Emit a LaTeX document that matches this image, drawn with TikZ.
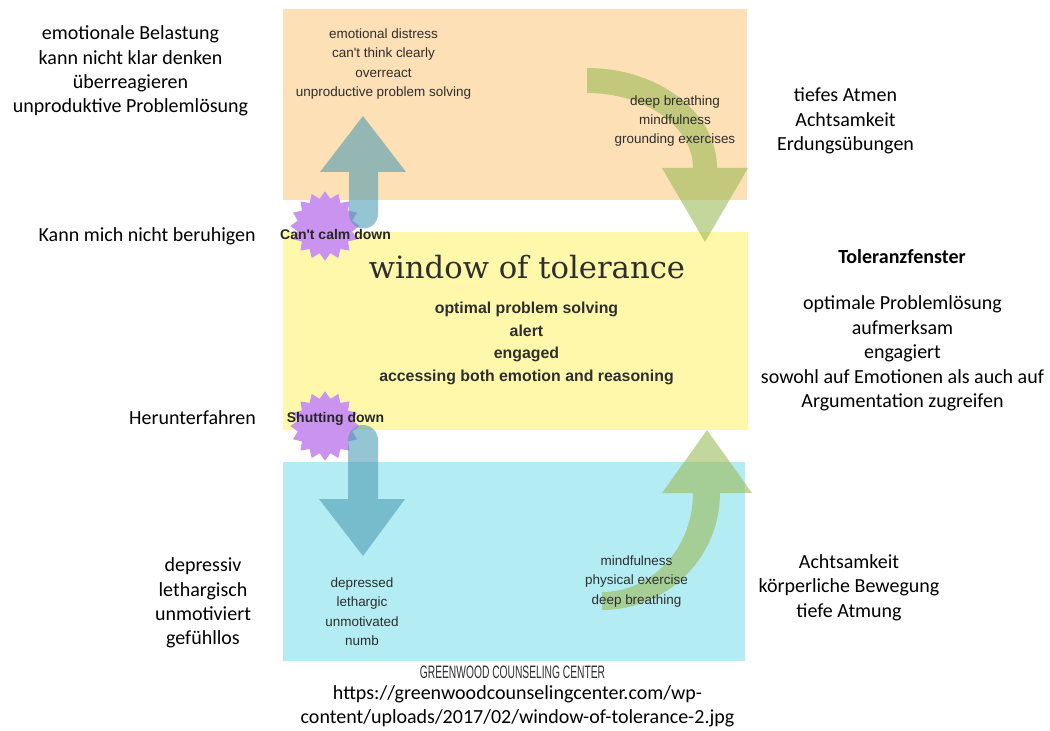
\documentclass[tikz,border=0pt]{standalone}
\usepackage{fontspec}
\setmainfont{Liberation Sans}
\newfontfamily\calib{Carlito}
\newfontfamily\arial{Liberation Sans}
\newfontfamily\slab{DejaVu Serif}
\newfontfamily\narrow[FakeStretch=0.57]{Liberation Sans}
\usetikzlibrary{shapes.geometric}

\definecolor{distress}{HTML}{FDE0B5}
\definecolor{window}{HTML}{FFF8AB}
\definecolor{numb}{HTML}{B3ECF3}
\definecolor{updown}{HTML}{4F9DB4}
\definecolor{calmer}{HTML}{9BBB59}
\definecolor{burstcol}{HTML}{CB93F0}
\definecolor{ink}{HTML}{2E2E2E}

\tikzset{
  de/.style={align=center, inner sep=0, text=black, font=\calib\fontsize{15}{18.3}\selectfont},
  debold/.style={de, font=\calib\bfseries\fontsize{15}{18.3}\selectfont},
  en/.style={align=center, inner sep=0, text=ink, font=\arial\fontsize{10.1}{14.6}\selectfont},
  enbold/.style={en, font=\arial\bfseries\fontsize{11.9}{16.9}\selectfont},
  burstlabel/.style={en, text=black!85, font=\arial\bfseries\fontsize{10.5}{12}\selectfont},
  burst/.style={shape=star, star points=16, star point ratio=1.25, minimum size=52pt, inner sep=0, fill=burstcol},
  bigarrow/.style={fill=updown, opacity=0.6},
  curvearrow/.style={fill=calmer, opacity=0.6}
}

\begin{document}
\begin{tikzpicture}[x=0.75pt, y=0.75pt]
\useasboundingbox (0,0) rectangle (1050,-731);

\fill[distress] (283,-9) rectangle (747,-200);
\fill[window] (283,-232) rectangle (748,-430);
\fill[numb] (283,-462) rectangle (745,-661);

\node[burst] (calmstar) at (325,-226) {};
\node[burst] (shutstar) at (325,-426) {};

% up and down
\fill[bigarrow] (349,-172) -- (320,-172) -- (363,-116) -- (406,-172) -- (378,-172) -- (378,-214)
  arc[start angle=0, end angle=-180, radius=14.5] -- cycle;
\fill[bigarrow] (348,-499) -- (348,-440) arc[start angle=180, end angle=0, radius=15]
  -- (378,-499) -- (405,-499) -- (363,-556) -- (319,-499) -- cycle;

% back into the window
\fill[curvearrow] (587,-68) arc[start angle=90, end angle=0, x radius=130, y radius=100]
  -- (748,-168) -- (705,-242) -- (662,-168) -- (693,-168)
  arc[start angle=0, end angle=90, x radius=106, y radius=75] -- cycle;
\fill[curvearrow] (602,-610) arc[start angle=270, end angle=360, x radius=118, y radius=117]
  -- (752,-493) -- (707,-430) -- (662,-493) -- (693,-493)
  arc[start angle=0, end angle=-90, x radius=91, y radius=99] -- cycle;

\node[en] (distresstext) at (383.5,-64) {emotional distress\\can't think clearly\\overreact\\unproductive problem solving};
\node[en] (downtext) at (675,-121) {deep breathing\\mindfulness\\grounding exercises};
\node[inner sep=0, text=ink, font=\slab\fontsize{23}{26}\selectfont] (wot) at (527,-267) {window of tolerance};
\node[enbold] (optimal) at (526.5,-343.5) {optimal problem solving\\alert\\engaged\\accessing both emotion and reasoning};
\node[burstlabel] (calmlabel) at (335.5,-234) {Can't calm down};
\node[burstlabel] (shutlabel) at (335.5,-419) {Shutting down};
\node[en] (numbtext) at (362,-611.5) {depressed\\lethargic\\unmotivated\\numb};
\node[en] (uptext) at (636.5,-581.5) {mindfulness\\physical exercise\\deep breathing};
\node[inner sep=0, text=ink, font=\narrow\fontsize{13.5}{15}\selectfont] (center) at (512.5,-672) {GREENWOOD COUNSELING CENTER};
\node[de] (url) at (517.5,-706.5) {https://greenwoodcounselingcenter.com/wp-\\content/uploads/2017/02/window-of-tolerance-2.jpg};

\node[de] (deDistress) at (130.5,-71) {emotionale Belastung\\kann nicht klar denken\\überreagieren\\unproduktive Problemlösung};
\node[de, anchor=east] (deCalm) at (256,-236) {Kann mich nicht beruhigen};
\node[de, anchor=east] (deShut) at (256,-418) {Herunterfahren};
\node[de] (deNumb) at (203,-603) {depressiv\\lethargisch\\unmotiviert\\gefühllos};
\node[de] (deDown) at (845.5,-121) {tiefes Atmen\\Achtsamkeit\\Erdungsübungen};
\node[debold] (deWindow) at (902,-257) {Toleranzfenster};
\node[de] (deOptimal) at (902.5,-353.5) {optimale Problemlösung\\aufmerksam\\engagiert\\sowohl auf Emotionen als auch auf\\Argumentation zugreifen};
\node[de] (deUp) at (849,-587.5) {Achtsamkeit\\körperliche Bewegung\\tiefe Atmung};
\end{tikzpicture}
\end{document}
